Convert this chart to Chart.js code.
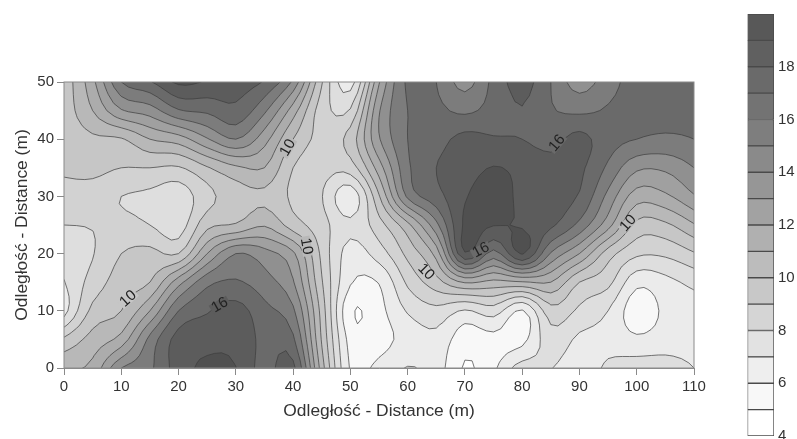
<!DOCTYPE html>
<html>
<head>
<meta charset="utf-8">
<title>Contour map</title>
<script src="https://cdn.jsdelivr.net/npm/chart.js@4/dist/chart.umd.js"></script>
<style>
  html, body { margin: 0; padding: 0; background: #fff; overflow: hidden; }
  canvas { position: absolute; top: 0; }
</style>
</head>
<body>
<canvas id="mapChart" width="797" height="439" style="left:0"></canvas>
<canvas id="barChart" width="97" height="449" style="left:700px"></canvas>
<script>
// Values, on a 5 m grid
const gridX = [0, 5, 10, 15, 20, 25, 30, 35, 40, 45, 50, 55, 60, 65, 70, 75, 80, 85, 90, 95, 100, 105, 110];
const gridY = [50, 45, 40, 35, 30, 25, 20, 15, 10, 5, 0];
const gridZ = [
  [9.3, 11.7, 15, 15.9, 17.2, 16.9, 16.5, 15.9, 13.8, 9.1, 6.5, 11.9, 15.2, 15, 13.6, 15.3, 16.4, 15, 13.5, 14.6, 15.4, 15.5, 15.5],
  [9.4, 11, 12.9, 13.5, 14.9, 15.2, 15.7, 14.2, 11.5, 8.5, 8.1, 12.9, 15, 15.2, 14.8, 15.4, 15.95, 15.1, 14.8, 15.1, 15.3, 15.4, 15.3],
  [9.3, 9.8, 9.9, 11, 11.5, 12.9, 14, 12.4, 10, 8.7, 9.4, 12.9, 15, 15.6, 16.3, 16.1, 16, 15.7, 16.3, 15.4, 15, 14.8, 15],
  [9.15, 9.3, 9, 9, 8.9, 9.9, 10.8, 11, 9, 8.4, 8.5, 11.5, 14.8, 16, 16.5, 17.05, 16.7, 16.3, 16.2, 14.8, 13.2, 13.2, 14],
  [8.6, 8.5, 8, 7.8, 7.4, 8.7, 9.5, 9.8, 8.8, 8.05, 6.3, 9.9, 14.2, 15.6, 16.9, 17.6, 16.7, 16.4, 15.9, 13.7, 11.5, 11.8, 12.9],
  [8, 8.05, 8.3, 8, 7.5, 9.7, 10.1, 10.9, 9.5, 8.4, 7.2, 8.6, 10.7, 13.7, 17.2, 17.05, 16.9, 16.2, 14.7, 12.4, 9.7, 9.8, 10.9],
  [7.5, 7.95, 9, 9.3, 9, 12, 14, 13.4, 12.2, 8.75, 6.6, 7.5, 9.3, 11.4, 16.9, 14.6, 17.1, 13.9, 12, 9.5, 8.2, 8.2, 8.9],
  [6.95, 8.4, 9.5, 10, 12.6, 14.7, 15.1, 14.4, 13.1, 9.1, 6.1, 6.05, 8.2, 9.6, 11.1, 10.7, 10.9, 11, 9, 8.3, 6.3, 6.7, 7.3],
  [6.6, 9.3, 10, 12, 15, 15.9, 16.4, 15.3, 14.2, 9.6, 5.15, 5.7, 7.1, 7.7, 6.9, 7.5, 5.9, 8.6, 7.8, 7, 5.4, 6.2, 6.5],
  [9.2, 10.4, 11.4, 14.3, 16.4, 16.7, 16.7, 15.7, 15.2, 9.9, 5.6, 5.6, 6.4, 6.7, 5.4, 5.7, 5.7, 7.6, 6.8, 6.7, 6.2, 6.5, 6.6],
  [10.9, 11.3, 14, 14.8, 16.5, 17.2, 17.02, 15.6, 16.3, 10.5, 5.9, 6.3, 7.05, 6.5, 4.9, 5.8, 7.5, 7.05, 6.4, 7.2, 7.6, 7.5, 7]
];

// Contour levels and the grey of the band that starts at each one
const levels = [4, 5, 6, 7, 8, 9, 10, 11, 12, 13, 14, 15, 16, 17];
const mapColors = ['#ffffff', '#f8f8f8', '#ebebeb', '#dedede', '#d2d2d2', '#c6c6c6', '#b8b8b8', '#acacac', '#a0a0a0', '#909090', '#7c7c7c', '#6a6a6a', '#5c5c5c', '#505050'];

// Colour bar
const barLevels = [4, 5, 6, 7, 8, 9, 10, 11, 12, 13, 14, 15, 16, 17, 18, 19, 20];
const barColors = ['#ffffff', '#f8f8f8', '#eeeeee', '#e2e2e2', '#d5d5d5', '#c8c8c8', '#bcbcbc', '#b0b0b0', '#a2a2a2', '#969696', '#8a8a8a', '#7e7e7e', '#737373', '#6a6a6a', '#606060', '#585858'];

// Contour labels
const labelText = ['10', '16', '10', '10', '16', '16', '10', '10'];
const labelX = [39.1, 86.1, 42.3, 11.2, 27.2, 72.8, 63.2, 98.5];
const labelY = [38.5, 39.3, 21.3, 12.1, 11, 20.6, 16.8, 25.3];
const labelAngle = [-60, -50, 80, -42, -30, -28, 45, -48];

const FONT = '"Liberation Sans", Arial, sans-serif';
const TEXT = '#333333';

// The contour pass works on a finer mesh, so the lines come out round like the source's
const FINE = 4;

function spline(p0, p1, p2, p3, t) {
  return 0.5 * (2 * p1 + (p2 - p0) * t + (2 * p0 - 5 * p1 + 4 * p2 - p3) * t * t + (3 * p1 - p0 - 3 * p2 + p3) * t * t * t);
}

function refine(values) {
  const out = [];
  const n = values.length;
  for (let i = 0; i < n - 1; i++) {
    for (let k = 0; k < FINE; k++) {
      out.push(spline(values[Math.max(i - 1, 0)], values[i], values[i + 1], values[Math.min(i + 2, n - 1)], k / FINE));
    }
  }
  out.push(values[n - 1]);
  return out;
}

const meshX = refine(gridX);
const meshY = refine(gridY);
const rowsFine = gridZ.map(refine);
const meshZ = (() => {
  const columns = meshX.map((_, c) => refine(rowsFine.map((row) => row[c])));
  return meshY.map((_, r) => columns.map((col) => col[r]));
})();

// Cut one mesh cell at a level: the polygon above it and the contour pieces in it
function cutCell(col, row, level) {
  const corners = [[col, row], [col + 1, row], [col + 1, row + 1], [col, row + 1]].map(([c, r]) => ({
    x: meshX[c], y: meshY[r], z: meshZ[r][c]
  }));
  const polygon = [];
  const crossings = [];
  corners.forEach((a, i) => {
    const b = corners[(i + 1) % 4];
    if (a.z >= level) polygon.push({ x: a.x, y: a.y });
    if ((a.z >= level) !== (b.z >= level)) {
      const t = (level - a.z) / (b.z - a.z);
      const p = { x: a.x + t * (b.x - a.x), y: a.y + t * (b.y - a.y) };
      polygon.push(p);
      crossings.push({ p, down: a.z >= level });
    }
  });
  const pieces = [];
  crossings.forEach((c, i) => {
    if (c.down) pieces.push([c.p, crossings[(i + 1) % crossings.length].p]);
  });
  return { polygon, pieces };
}

function contourData(level) {
  const points = [];
  for (let r = 0; r < meshY.length - 1; r++) {
    for (let c = 0; c < meshX.length - 1; c++) {
      cutCell(c, r, level).pieces.forEach(([a, b]) => {
        points.push(a, b, { x: NaN, y: NaN });
      });
    }
  }
  return points;
}

function valueAt(x, y) {
  const c = Math.round(x / 5 * FINE);
  const r = Math.round((50 - y) / 5 * FINE);
  return meshZ[r][c];
}

// Filled bands go under the contour lines
const bandsPlugin = {
  id: 'bands',
  beforeDatasetsDraw(chart) {
    const { ctx, chartArea, scales } = chart;
    ctx.save();
    ctx.beginPath();
    ctx.rect(chartArea.left, chartArea.top, chartArea.width, chartArea.height);
    ctx.clip();
    levels.forEach((level, i) => {
      ctx.beginPath();
      for (let r = 0; r < meshY.length - 1; r++) {
        for (let c = 0; c < meshX.length - 1; c++) {
          const poly = cutCell(c, r, level).polygon;
          poly.forEach((p, k) => {
            const px = scales.x.getPixelForValue(p.x);
            const py = scales.y.getPixelForValue(p.y);
            if (k === 0) ctx.moveTo(px, py); else ctx.lineTo(px, py);
          });
          if (poly.length) ctx.closePath();
        }
      }
      ctx.fillStyle = mapColors[i];
      ctx.fill();
    });
    ctx.restore();
  },
  afterDatasetsDraw(chart) {
    const { ctx, chartArea, scales } = chart;
    ctx.save();
    labelText.forEach((text, i) => {
      const z = valueAt(labelX[i], labelY[i]);
      const band = Math.max(0, Math.min(levels.length - 1, Math.floor(z) - levels[0]));
      ctx.save();
      ctx.translate(scales.x.getPixelForValue(labelX[i]), scales.y.getPixelForValue(labelY[i]));
      ctx.rotate(labelAngle[i] * Math.PI / 180);
      ctx.fillStyle = mapColors[band];
      ctx.fillRect(-10, -5, 20, 10);
      ctx.fillStyle = '#222222';
      ctx.font = '15px ' + FONT;
      ctx.textAlign = 'center';
      ctx.textBaseline = 'middle';
      ctx.fillText(text, 0, 0);
      ctx.restore();
    });
    ctx.strokeStyle = '#8a8a8a';
    ctx.lineWidth = 1;
    ctx.strokeRect(chartArea.left, chartArea.top, chartArea.width, chartArea.height);
    ctx.restore();
  }
};

function axisOptions(max, title) {
  return {
    type: 'linear',
    min: 0,
    max: max,
    grid: { drawOnChartArea: false, tickLength: 7, tickColor: '#8a8a8a' },
    border: { color: '#8a8a8a' },
    ticks: { stepSize: 10, autoSkip: false, maxRotation: 0, color: TEXT, font: { family: FONT, size: 15 }, padding: 3 },
    title: { display: true, text: title, color: TEXT, font: { family: FONT, size: 17.4 }, padding: { top: 12, bottom: 17 } }
  };
}

const xAxis = axisOptions(110, 'Odległość - Distance (m)');
xAxis.afterFit = (scale) => { scale.height = 71; };
const yAxis = axisOptions(50, 'Odległość - Distance (m)');
yAxis.afterFit = (scale) => { scale.width = 64; };

new Chart(document.getElementById('mapChart'), {
  type: 'scatter',
  data: {
    datasets: levels.slice(1).map((level) => ({
      label: String(level),
      data: contourData(level),
      showLine: true,
      spanGaps: false,
      borderColor: '#3c3c3c',
      borderWidth: 0.7,
      borderDash: [1000, 0], // solid, but keeps Chart.js off its fast path, which breaks steep lines
      pointRadius: 0,
      tension: 0
    }))
  },
  options: {
    responsive: false,
    animation: false,
    layout: { autoPadding: false, padding: { top: 82, right: 103, bottom: 0, left: 0 } },
    plugins: { legend: { display: false }, tooltip: { enabled: false } },
    scales: { x: xAxis, y: yAxis }
  },
  plugins: [bandsPlugin]
});

// Colour bar: one floating bar per band
new Chart(document.getElementById('barChart'), {
  type: 'bar',
  data: {
    labels: [''],
    datasets: barColors.map((color, i) => ({
      data: [[barLevels[i], barLevels[i + 1]]],
      backgroundColor: color,
      borderColor: '#4a4a4a',
      borderWidth: 1,
      borderSkipped: false,
      grouped: false,
      barPercentage: 1,
      categoryPercentage: 1
    }))
  },
  options: {
    responsive: false,
    animation: false,
    layout: { autoPadding: false, padding: { top: 14, right: 0, bottom: 0, left: 47.5 } },
    plugins: { legend: { display: false }, tooltip: { enabled: false } },
    scales: {
      x: { display: false },
      y: {
        position: 'right',
        min: 4,
        max: 20,
        grid: { drawTicks: false, drawOnChartArea: false },
        border: { display: false },
        ticks: {
          stepSize: 2,
          padding: 4,
          color: TEXT,
          font: { family: FONT, size: 15 },
          callback: (value) => (value === 20 ? '' : value)
        },
        afterFit: (scale) => { scale.width = 23; }
      }
    }
  }
});
</script>
</body>
</html>
